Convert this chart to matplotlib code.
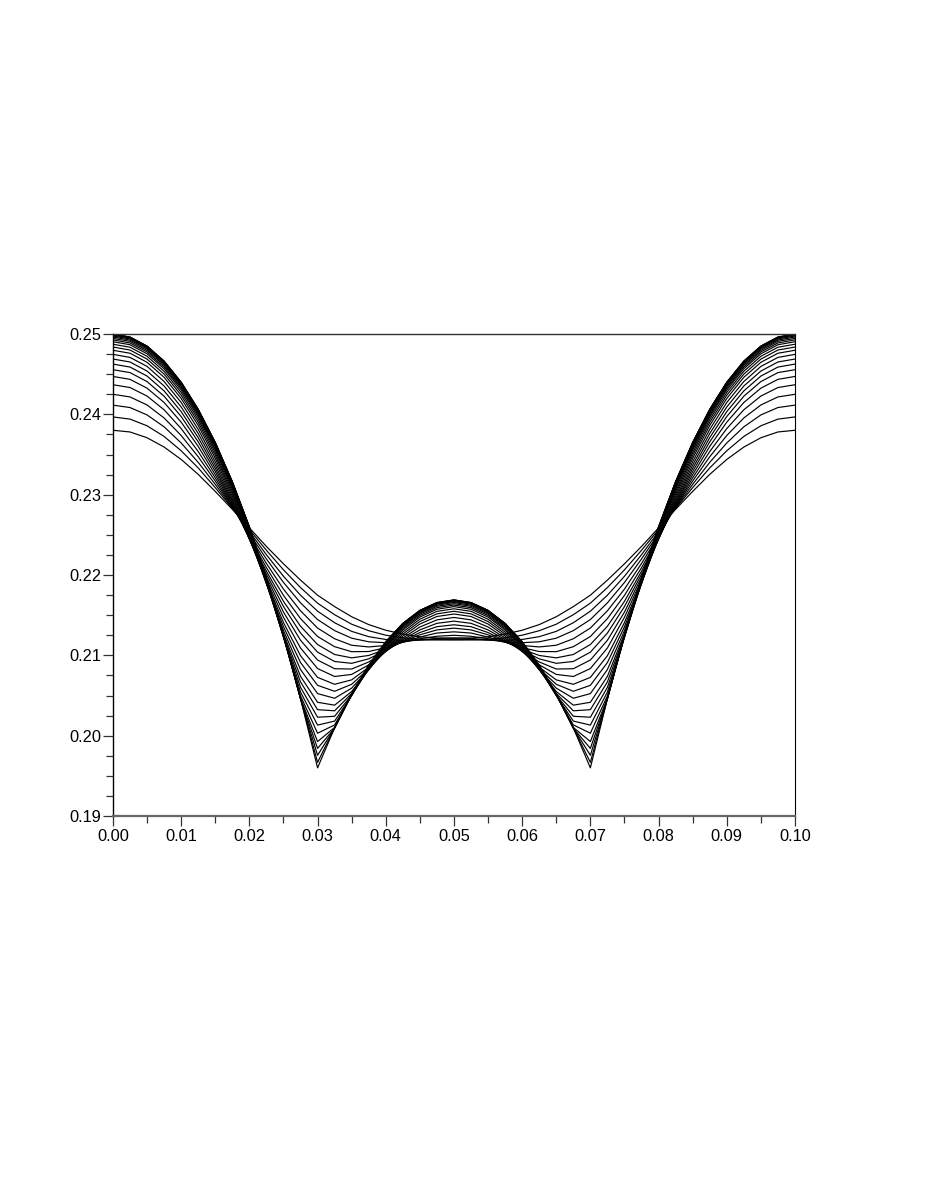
import matplotlib
matplotlib.use("Agg")
import matplotlib.pyplot as plt
from matplotlib.ticker import FixedLocator

# ---- data ----
x_values = [0.0000, 0.0025, 0.0050, 0.0075, 0.0100, 0.0125, 0.0150, 0.0175, 0.0200, 0.0225,
            0.0250, 0.0275, 0.0300, 0.0325, 0.0350, 0.0375, 0.0400, 0.0425, 0.0450, 0.0475,
            0.0500, 0.0525, 0.0550, 0.0575, 0.0600, 0.0625, 0.0650, 0.0675, 0.0700, 0.0725,
            0.0750, 0.0775, 0.0800, 0.0825, 0.0850, 0.0875, 0.0900, 0.0925, 0.0950, 0.0975, 0.1000]

c00 = [0.23802, 0.23781, 0.23709, 0.23593, 0.23439, 0.23253, 0.23041, 0.22818, 0.22587, 0.22356, 0.22140, 0.21937, 0.21749, 0.21607, 0.21481, 0.21383, 0.21313, 0.21265, 0.21231, 0.21216, 0.21214,
       0.21216, 0.21231, 0.21265, 0.21313, 0.21383, 0.21481, 0.21607, 0.21749, 0.21937, 0.22140, 0.22356, 0.22587, 0.22818, 0.23041, 0.23253, 0.23439, 0.23593, 0.23709, 0.23781, 0.23802]
c01 = [0.23968, 0.23941, 0.23858, 0.23725, 0.23547, 0.23333, 0.23088, 0.22830, 0.22566, 0.22308, 0.22065, 0.21844, 0.21650, 0.21506, 0.21388, 0.21307, 0.21251, 0.21218, 0.21201, 0.21195, 0.21194,
       0.21195, 0.21201, 0.21218, 0.21251, 0.21307, 0.21388, 0.21506, 0.21650, 0.21844, 0.22065, 0.22308, 0.22566, 0.22830, 0.23088, 0.23333, 0.23547, 0.23725, 0.23858, 0.23941, 0.23968]
c02 = [0.24115, 0.24085, 0.23993, 0.23845, 0.23644, 0.23402, 0.23129, 0.22837, 0.22540, 0.22253, 0.21985, 0.21749, 0.21550, 0.21406, 0.21299, 0.21233, 0.21198, 0.21188, 0.21189, 0.21194, 0.21194,
       0.21194, 0.21189, 0.21188, 0.21198, 0.21233, 0.21299, 0.21406, 0.21550, 0.21749, 0.21985, 0.22253, 0.22540, 0.22837, 0.23129, 0.23402, 0.23644, 0.23845, 0.23993, 0.24085, 0.24115]
c03 = [0.24250, 0.24217, 0.24117, 0.23955, 0.23737, 0.23472, 0.23170, 0.22846, 0.22516, 0.22200, 0.21908, 0.21654, 0.21446, 0.21308, 0.21214, 0.21169, 0.21158, 0.21171, 0.21193, 0.21211, 0.21216,
       0.21211, 0.21193, 0.21171, 0.21158, 0.21169, 0.21214, 0.21308, 0.21446, 0.21654, 0.21908, 0.22200, 0.22516, 0.22846, 0.23170, 0.23472, 0.23737, 0.23955, 0.24117, 0.24217, 0.24250]
c04 = [0.24369, 0.24334, 0.24228, 0.24057, 0.23823, 0.23537, 0.23209, 0.22856, 0.22493, 0.22144, 0.21825, 0.21555, 0.21340, 0.21207, 0.21126, 0.21105, 0.21123, 0.21163, 0.21207, 0.21238, 0.21250,
       0.21238, 0.21207, 0.21163, 0.21123, 0.21105, 0.21126, 0.21207, 0.21340, 0.21555, 0.21825, 0.22144, 0.22493, 0.22856, 0.23209, 0.23537, 0.23823, 0.24057, 0.24228, 0.24334, 0.24369]
c05 = [0.24472, 0.24436, 0.24326, 0.24148, 0.23903, 0.23601, 0.23249, 0.22868, 0.22474, 0.22092, 0.21747, 0.21458, 0.21235, 0.21108, 0.21046, 0.21048, 0.21096, 0.21164, 0.21228, 0.21278, 0.21293,
       0.21278, 0.21228, 0.21164, 0.21096, 0.21048, 0.21046, 0.21108, 0.21235, 0.21458, 0.21747, 0.22092, 0.22474, 0.22868, 0.23249, 0.23601, 0.23903, 0.24148, 0.24326, 0.24436, 0.24472]
c06 = [0.24556, 0.24520, 0.24408, 0.24226, 0.23973, 0.23658, 0.23289, 0.22883, 0.22460, 0.22047, 0.21673, 0.21363, 0.21135, 0.21011, 0.20969, 0.20999, 0.21075, 0.21170, 0.21256, 0.21317, 0.21339,
       0.21317, 0.21256, 0.21170, 0.21075, 0.20999, 0.20969, 0.21011, 0.21135, 0.21363, 0.21673, 0.22047, 0.22460, 0.22883, 0.23289, 0.23658, 0.23973, 0.24226, 0.24408, 0.24520, 0.24556]
c07 = [0.24626, 0.24589, 0.24477, 0.24292, 0.24034, 0.23710, 0.23328, 0.22901, 0.22452, 0.22010, 0.21608, 0.21278, 0.21040, 0.20924, 0.20901, 0.20957, 0.21061, 0.21179, 0.21284, 0.21357, 0.21381,
       0.21357, 0.21284, 0.21179, 0.21061, 0.20957, 0.20901, 0.20924, 0.21040, 0.21278, 0.21608, 0.22010, 0.22452, 0.22901, 0.23328, 0.23710, 0.24034, 0.24292, 0.24477, 0.24589, 0.24626]
c08 = [0.24689, 0.24652, 0.24539, 0.24353, 0.24092, 0.23762, 0.23368, 0.22923, 0.22446, 0.21974, 0.21539, 0.21188, 0.20942, 0.20834, 0.20830, 0.20918, 0.21051, 0.21195, 0.21317, 0.21399, 0.21426,
       0.21399, 0.21317, 0.21195, 0.21051, 0.20918, 0.20830, 0.20834, 0.20942, 0.21188, 0.21539, 0.21974, 0.22446, 0.22923, 0.23368, 0.23762, 0.24092, 0.24353, 0.24539, 0.24652, 0.24689]
c09 = [0.24747, 0.24709, 0.24597, 0.24409, 0.24148, 0.23813, 0.23410, 0.22949, 0.22449, 0.21941, 0.21474, 0.21092, 0.20836, 0.20737, 0.20763, 0.20882, 0.21048, 0.21216, 0.21353, 0.21442, 0.21472,
       0.21442, 0.21353, 0.21216, 0.21048, 0.20882, 0.20763, 0.20737, 0.20836, 0.21092, 0.21474, 0.21941, 0.22449, 0.22949, 0.23410, 0.23813, 0.24148, 0.24409, 0.24597, 0.24709, 0.24747]
c10 = [0.24798, 0.24761, 0.24648, 0.24461, 0.24198, 0.23862, 0.23453, 0.22979, 0.22456, 0.21916, 0.21408, 0.20996, 0.20726, 0.20640, 0.20695, 0.20853, 0.21051, 0.21240, 0.21390, 0.21484, 0.21515,
       0.21484, 0.21390, 0.21240, 0.21051, 0.20853, 0.20695, 0.20640, 0.20726, 0.20996, 0.21408, 0.21916, 0.22456, 0.22979, 0.23453, 0.23862, 0.24198, 0.24461, 0.24648, 0.24761, 0.24798]
c11 = [0.24838, 0.24801, 0.24688, 0.24501, 0.24238, 0.23901, 0.23490, 0.23009, 0.22470, 0.21901, 0.21357, 0.20911, 0.20627, 0.20553, 0.20640, 0.20834, 0.21059, 0.21265, 0.21421, 0.21517, 0.21549,
       0.21517, 0.21421, 0.21265, 0.21059, 0.20834, 0.20640, 0.20553, 0.20627, 0.20911, 0.21357, 0.21901, 0.22470, 0.23009, 0.23490, 0.23901, 0.24238, 0.24501, 0.24688, 0.24801, 0.24838]
c12 = [0.24873, 0.24836, 0.24723, 0.24536, 0.24273, 0.23936, 0.23523, 0.23038, 0.22487, 0.21893, 0.21309, 0.20824, 0.20524, 0.20466, 0.20592, 0.20824, 0.21074, 0.21290, 0.21450, 0.21548, 0.21580,
       0.21548, 0.21450, 0.21290, 0.21074, 0.20824, 0.20592, 0.20466, 0.20524, 0.20824, 0.21309, 0.21893, 0.22487, 0.23038, 0.23523, 0.23936, 0.24273, 0.24536, 0.24723, 0.24836, 0.24873]
c13 = [0.24904, 0.24867, 0.24754, 0.24567, 0.24304, 0.23967, 0.23554, 0.23068, 0.22508, 0.21894, 0.21270, 0.20739, 0.20416, 0.20380, 0.20550, 0.20821, 0.21091, 0.21315, 0.21477, 0.21574, 0.21607,
       0.21574, 0.21477, 0.21315, 0.21091, 0.20821, 0.20550, 0.20380, 0.20416, 0.20739, 0.21270, 0.21894, 0.22508, 0.23068, 0.23554, 0.23967, 0.24304, 0.24567, 0.24754, 0.24867, 0.24904]
c14 = [0.24927, 0.24889, 0.24777, 0.24589, 0.24327, 0.23989, 0.23577, 0.23089, 0.22528, 0.21900, 0.21246, 0.20670, 0.20324, 0.20310, 0.20525, 0.20825, 0.21108, 0.21334, 0.21496, 0.21594, 0.21626,
       0.21594, 0.21496, 0.21334, 0.21108, 0.20825, 0.20525, 0.20310, 0.20324, 0.20670, 0.21246, 0.21900, 0.22528, 0.23089, 0.23577, 0.23989, 0.24327, 0.24589, 0.24777, 0.24889, 0.24927]
c15 = [0.24946, 0.24909, 0.24796, 0.24609, 0.24346, 0.24009, 0.23596, 0.23109, 0.22546, 0.21912, 0.21230, 0.20603, 0.20230, 0.20242, 0.20507, 0.20834, 0.21123, 0.21351, 0.21513, 0.21611, 0.21643,
       0.21611, 0.21513, 0.21351, 0.21123, 0.20834, 0.20507, 0.20242, 0.20230, 0.20603, 0.21230, 0.21912, 0.22546, 0.23109, 0.23596, 0.24009, 0.24346, 0.24609, 0.24796, 0.24909, 0.24946]
c16 = [0.24963, 0.24925, 0.24813, 0.24625, 0.24363, 0.24025, 0.23613, 0.23125, 0.22563, 0.21926, 0.21225, 0.20544, 0.20132, 0.20182, 0.20499, 0.20846, 0.21138, 0.21365, 0.21528, 0.21625, 0.21658,
       0.21625, 0.21528, 0.21365, 0.21138, 0.20846, 0.20499, 0.20182, 0.20132, 0.20544, 0.21225, 0.21926, 0.22563, 0.23125, 0.23613, 0.24025, 0.24363, 0.24625, 0.24813, 0.24925, 0.24963]
c17 = [0.24976, 0.24939, 0.24826, 0.24639, 0.24376, 0.24039, 0.23626, 0.23139, 0.22576, 0.21939, 0.21228, 0.20496, 0.20031, 0.20134, 0.20501, 0.20857, 0.21149, 0.21377, 0.21539, 0.21637, 0.21669,
       0.21637, 0.21539, 0.21377, 0.21149, 0.20857, 0.20501, 0.20134, 0.20031, 0.20496, 0.21228, 0.21939, 0.22576, 0.23139, 0.23626, 0.24039, 0.24376, 0.24639, 0.24826, 0.24939, 0.24976]
c18 = [0.24987, 0.24949, 0.24837, 0.24649, 0.24387, 0.24049, 0.23637, 0.23149, 0.22587, 0.21949, 0.21237, 0.20466, 0.19927, 0.20103, 0.20508, 0.20866, 0.21158, 0.21386, 0.21548, 0.21646, 0.21678,
       0.21646, 0.21548, 0.21386, 0.21158, 0.20866, 0.20508, 0.20103, 0.19927, 0.20466, 0.21237, 0.21949, 0.22587, 0.23149, 0.23637, 0.24049, 0.24387, 0.24649, 0.24837, 0.24949, 0.24987]
c19 = [0.24993, 0.24955, 0.24843, 0.24655, 0.24393, 0.24055, 0.23643, 0.23155, 0.22593, 0.21955, 0.21243, 0.20458, 0.19842, 0.20094, 0.20514, 0.20871, 0.21164, 0.21391, 0.21554, 0.21651, 0.21684,
       0.21651, 0.21554, 0.21391, 0.21164, 0.20871, 0.20514, 0.20094, 0.19842, 0.20458, 0.21243, 0.21955, 0.22593, 0.23155, 0.23643, 0.24055, 0.24393, 0.24655, 0.24843, 0.24955, 0.24993]
c20 = [0.24997, 0.24960, 0.24847, 0.24660, 0.24397, 0.24060, 0.23647, 0.23160, 0.22597, 0.21960, 0.21247, 0.20460, 0.19756, 0.20095, 0.20518, 0.20875, 0.21168, 0.21395, 0.21558, 0.21655, 0.21688,
       0.21655, 0.21558, 0.21395, 0.21168, 0.20875, 0.20518, 0.20095, 0.19756, 0.20460, 0.21247, 0.21960, 0.22597, 0.23160, 0.23647, 0.24060, 0.24397, 0.24660, 0.24847, 0.24960, 0.24997]
c21 = [0.25000, 0.24962, 0.24850, 0.24662, 0.24400, 0.24062, 0.23650, 0.23162, 0.22600, 0.21962, 0.21250, 0.20462, 0.19668, 0.20097, 0.20520, 0.20877, 0.21170, 0.21397, 0.21560, 0.21657, 0.21690,
       0.21657, 0.21560, 0.21397, 0.21170, 0.20877, 0.20520, 0.20097, 0.19668, 0.20462, 0.21250, 0.21962, 0.22600, 0.23162, 0.23650, 0.24062, 0.24400, 0.24662, 0.24850, 0.24962, 0.25000]
c22 = [0.25000, 0.24963, 0.24850, 0.24663, 0.24400, 0.24063, 0.23650, 0.23163, 0.22600, 0.21963, 0.21250, 0.20463, 0.19600, 0.20098, 0.20520, 0.20878, 0.21170, 0.21398, 0.21560, 0.21658, 0.21690,
       0.21658, 0.21560, 0.21398, 0.21170, 0.20878, 0.20520, 0.20098, 0.19600, 0.20463, 0.21250, 0.21963, 0.22600, 0.23163, 0.23650, 0.24063, 0.24400, 0.24663, 0.24850, 0.24963, 0.25000]

curves = [c00, c01, c02, c03, c04, c05, c06, c07, c08, c09, c10, c11,
          c12, c13, c14, c15, c16, c17, c18, c19, c20, c21, c22]

x_tick_values = [0.00, 0.01, 0.02, 0.03, 0.04, 0.05, 0.06, 0.07, 0.08, 0.09, 0.10]
x_tick_labels = ["0.00", "0.01", "0.02", "0.03", "0.04", "0.05", "0.06", "0.07", "0.08", "0.09", "0.10"]
x_minor_values = [0.005, 0.015, 0.025, 0.035, 0.045, 0.055, 0.065, 0.075, 0.085, 0.095]
y_tick_values = [0.19, 0.20, 0.21, 0.22, 0.23, 0.24, 0.25]
y_tick_labels = ["0.19", "0.20", "0.21", "0.22", "0.23", "0.24", "0.25"]
y_minor_values = [0.1925, 0.195, 0.1975, 0.2025, 0.205, 0.2075, 0.2125, 0.215, 0.2175,
                  0.2225, 0.225, 0.2275, 0.2325, 0.235, 0.2375, 0.2425, 0.245, 0.2475]

# ---- figure ----
plt.rcParams['font.family'] = ['Liberation Sans', 'DejaVu Sans']
fig = plt.figure(figsize=(9.26, 11.99), dpi=100)
ax = fig.add_axes([0.1220, 0.3194, 0.7365, 0.4020])

for c in curves:
    ax.plot(x_values, c, color='black', lw=0.85, solid_joinstyle='round')

ax.set_xlim(0.0, 0.1)
ax.set_ylim(0.19, 0.25)

ax.xaxis.set_major_locator(FixedLocator(x_tick_values))
ax.set_xticklabels(x_tick_labels)
ax.xaxis.set_minor_locator(FixedLocator(x_minor_values))
ax.yaxis.set_major_locator(FixedLocator(y_tick_values))
ax.set_yticklabels(y_tick_labels)
ax.yaxis.set_minor_locator(FixedLocator(y_minor_values))

ax.tick_params(axis='both', which='major', direction='out', length=7, width=0.9,
               color='#333333', labelsize=11.8, labelcolor='black')
ax.tick_params(axis='both', which='minor', direction='out', length=5, width=0.9,
               color='#333333')
ax.tick_params(axis='x', which='major', pad=2.5)
ax.tick_params(axis='y', which='major', pad=1.5)

ax.spines['left'].set_color('black')
ax.spines['left'].set_linewidth(1.0)
ax.spines['bottom'].set_color('#666666')
ax.spines['bottom'].set_linewidth(1.6)
ax.spines['top'].set_color('#333333')
ax.spines['top'].set_linewidth(1.0)
ax.spines['right'].set_color('black')
ax.spines['right'].set_linewidth(0.8)

fig.savefig('out.png', dpi=100, facecolor='white')
